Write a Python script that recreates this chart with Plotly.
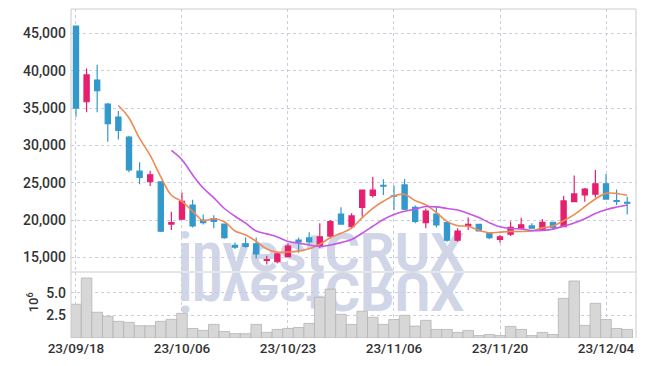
import plotly.graph_objects as go
import pandas as pd

dates = ["23/09/18", "23/09/19", "23/09/20", "23/09/21", "23/09/22", "23/09/25", "23/09/26", "23/09/27",
         "23/10/04", "23/10/05", "23/10/06", "23/10/10", "23/10/11", "23/10/12", "23/10/13",
         "23/10/16", "23/10/17", "23/10/18", "23/10/19", "23/10/20",
         "23/10/23", "23/10/24", "23/10/25", "23/10/26", "23/10/27", "23/10/30", "23/10/31",
         "23/11/01", "23/11/02", "23/11/03",
         "23/11/06", "23/11/07", "23/11/08", "23/11/09", "23/11/10",
         "23/11/13", "23/11/14", "23/11/15", "23/11/16", "23/11/17",
         "23/11/20", "23/11/21", "23/11/22", "23/11/23", "23/11/24",
         "23/11/27", "23/11/28", "23/11/29", "23/11/30", "23/12/01",
         "23/12/04", "23/12/05", "23/12/06"]

open_ = [46000, 35850, 38750, 35550, 33800, 31100, 26550, 25150, 25100, 19450,
         20100, 22000, 20000, 20200, 19450, 16600, 16800, 16800, 14600, 14400,
         15100, 17300, 17600, 16500, 17850, 20800, 19100, 21700, 23300, 24650,
         23250, 24700, 21700, 19650, 20800, 19650, 17300, 19250, 19400, 18300,
         17400, 18100, 18900, 19200, 18750, 19700, 19100, 22450, 23350, 23450,
         24850, 22600, 22350]
high = [46000, 40300, 40800, 35700, 34600, 31300, 27750, 26600, 25100, 21100,
        23700, 22700, 20750, 20650, 19500, 17000, 17650, 17650, 15200, 15750,
        16850, 17650, 18350, 19550, 20000, 21700, 20900, 24050, 25800, 25450,
        24600, 25500, 21950, 21550, 21700, 19650, 18900, 20350, 19450, 18350,
        18000, 19800, 20300, 19550, 20100, 19750, 23250, 25950, 24300, 26700,
        26150, 24100, 23100]
low = [33850, 34450, 34450, 30500, 30800, 26400, 24800, 24550, 18400, 18650,
       20000, 19000, 19400, 18900, 17500, 16100, 16300, 14850, 14050, 14200,
       15050, 15600, 16800, 16200, 17550, 19400, 18900, 20450, 23000, 23350,
       21350, 21350, 19550, 18900, 19000, 17100, 17100, 18650, 18500, 17450,
       16950, 17850, 18750, 18850, 18700, 18750, 19100, 22400, 22450, 23000,
       22800, 22000, 20750]
close = [35000, 39450, 37350, 32900, 32000, 26700, 25700, 26050, 18500, 19650,
         22500, 19200, 19650, 19800, 17650, 16350, 16450, 15450, 14700, 15450,
         16500, 17050, 17050, 17750, 19800, 19450, 20550, 24000, 24000, 24550,
         23200, 21450, 19800, 21200, 19350, 17300, 18500, 19400, 18550, 17650,
         17750, 19000, 19350, 18900, 19700, 19000, 22550, 23500, 24150, 24850,
         22800, 22500, 22250]
volume_m = [3.75, 6.66, 2.86, 2.41, 1.85, 1.74, 1.36, 1.36, 1.85, 2.07,
            2.74, 1.06, 0.84, 1.51, 0.73, 0.48, 0.48, 1.51, 0.62, 0.95,
            1.06, 1.17, 1.62, 4.52, 5.43, 2.63, 1.51, 2.97, 2.30, 1.51,
            2.05, 2.52, 1.32, 1.96, 0.95, 0.95, 0.62, 0.84, 0.27, 0.39,
            0.27, 1.29, 0.95, 0.27, 0.62, 0.39, 4.40, 6.33, 1.40, 3.85,
            2.05, 1.06, 0.95]

tick_idx = [0, 10, 20, 30, 40, 50]
tick_labels = [dates[i] for i in tick_idx]
price_ticks = [15000, 20000, 25000, 30000, 35000, 40000, 45000]
vol_ticks = [2.5, 5.0]

ma5 = pd.Series(close).rolling(5).mean()
ma10 = pd.Series(close).rolling(10).mean()

UP = "#e6206e"
DOWN = "#3399cc"
FONT = "Roboto, Liberation Sans, sans-serif"
TXT = "#333333"
GRID = "#c8cde0"
BORDER = "#cccccc"
VOL_FRAC = 66 / 329

fig = go.Figure()
fig.add_trace(go.Candlestick(
    x=dates, open=open_, high=high, low=low, close=close,
    increasing=dict(line=dict(color=UP, width=1.2), fillcolor=UP),
    decreasing=dict(line=dict(color=DOWN, width=1.2), fillcolor=DOWN),
    xaxis="x", yaxis="y", hoverinfo="skip", showlegend=False))
fig.add_trace(go.Scatter(x=dates, y=ma5, mode="lines", line=dict(color="#ef8a54", width=1.6, shape="spline"),
                         xaxis="x", yaxis="y", hoverinfo="skip", showlegend=False))
fig.add_trace(go.Scatter(x=dates, y=ma10, mode="lines", line=dict(color="#c656e6", width=1.6, shape="spline"),
                         xaxis="x", yaxis="y", hoverinfo="skip", showlegend=False))
fig.add_trace(go.Bar(x=dates, y=volume_m, marker=dict(color="#d7d7d7", line=dict(color="#b4b4b4", width=0.8)),
                     xaxis="x2", yaxis="y2", hoverinfo="skip", showlegend=False))

xcommon = dict(type="category", range=[-0.47, 52.83], showgrid=True, gridcolor=GRID, griddash="dot",
               gridwidth=1, tickvals=tick_labels, ticktext=tick_labels, zeroline=False, showline=False)
fig.update_layout(
    width=645, height=366,
    margin=dict(l=71, r=9, t=9, b=28),
    paper_bgcolor="white", plot_bgcolor="white",
    font=dict(family=FONT, size=14, color=TXT, weight=500),
    boxgap=0.3,
    bargap=0,
    xaxis=dict(**xcommon, anchor="y", showticklabels=False, rangeslider=dict(visible=False)),
    xaxis2=dict(**xcommon, anchor="y2", matches="x", showticklabels=True,
                tickfont=dict(family=FONT, size=13.5, color=TXT, weight=500)),
    yaxis=dict(domain=[VOL_FRAC, 1], range=[13029, 48284], tickvals=price_ticks, tickformat=",",
               showgrid=True, gridcolor=GRID, griddash="dot", zeroline=False, ticklabelstandoff=4),
    yaxis2=dict(domain=[0, VOL_FRAC], range=[0, 7.33], tickvals=vol_ticks, tickformat=".1f",
                showgrid=True, gridcolor=GRID, griddash="dot", zeroline=False, ticklabelstandoff=4),
    shapes=[
        dict(type="line", xref="paper", yref="paper", x0=0, x1=0, y0=0, y1=1, line=dict(color=BORDER, width=1)),
        dict(type="line", xref="paper", yref="paper", x0=1, x1=1, y0=0, y1=1, line=dict(color=BORDER, width=1)),
        dict(type="line", xref="paper", yref="paper", x0=0, x1=1, y0=1, y1=1, line=dict(color=BORDER, width=1)),
        dict(type="line", xref="paper", yref="paper", x0=0, x1=1, y0=VOL_FRAC, y1=VOL_FRAC,
             line=dict(color=BORDER, width=1)),
    ],
    annotations=[
        dict(text="investCRUX", xref="paper", yref="paper", x=0.4434, y=VOL_FRAC, xanchor="center",
             yanchor="bottom", yshift=-14, showarrow=False,
             font=dict(family=FONT, size=54, color="#d0d5e8", weight="bold")),
        dict(text="10<sup>6</sup>", xref="paper", yref="paper", x=-0.067, y=0.109, textangle=-90,
             xanchor="center", yanchor="middle",
             showarrow=False, font=dict(family=FONT, size=13, color=TXT, weight=500)),
    ],
)

post = """
document.body.style.margin = '0';
var gd = document.getElementById('{plot_id}');
var below = gd.querySelector('.layer-below');
var anns = Array.prototype.slice.call(gd.querySelectorAll('g.annotation')).filter(function(a){
  return a.textContent.indexOf('investCRUX') >= 0; });
if (anns.length && below) {
  var main = anns[0];
  var clone = main.cloneNode(true);
  below.appendChild(main);
  clone.setAttribute('transform', 'translate(0,544) scale(1,-1)');
  clone.setAttribute('opacity', '0.55');
  below.appendChild(clone);
}
"""

fig.write_html("out.html", post_script=post, config={"staticPlot": True})
